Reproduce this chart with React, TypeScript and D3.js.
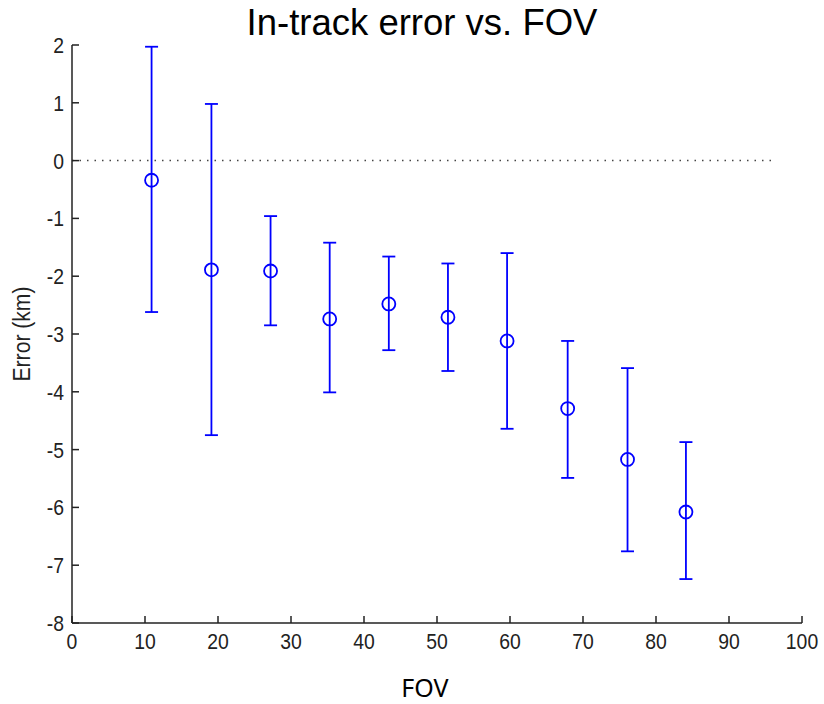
import React from "react";
import * as d3 from "d3";

const fov = [10.9, 19.1, 27.2, 35.3, 43.4, 51.5, 59.6, 67.9, 76.1, 84.1];
const meanErr = [-0.34, -1.89, -1.91, -2.74, -2.48, -2.71, -3.12, -4.29, -5.17, -6.08];
const upperErr = [1.97, 0.98, -0.96, -1.42, -1.66, -1.78, -1.60, -3.12, -3.59, -4.87];
const lowerErr = [-2.62, -4.75, -2.85, -4.01, -3.28, -3.64, -4.64, -5.49, -6.76, -7.24];
const xTicks = [0, 10, 20, 30, 40, 50, 60, 70, 80, 90, 100];
const yTicks = [2, 1, 0, -1, -2, -3, -4, -5, -6, -7, -8];

const W = 824, H = 704;
const left = 72, right = 802, top = 45, bottom = 623;

export default function App() {
  const x = d3.scaleLinear().domain([0, 100]).range([left, right]);
  const y = d3.scaleLinear().domain([-8, 2]).range([bottom, top]);
  const blue = "#0000ff";
  const tickFont = "'Liberation Sans', Arial, sans-serif";
  const sx = 0.88;
  return (
    <svg width={W} height={H} style={{ position: "absolute", left: 0, top: 0, background: "#fff" }}>
      <rect width={W} height={H} fill="#fff" />
      <text x={422} y={35} textAnchor="middle" fontFamily="'Liberation Sans', Arial, sans-serif" fontSize={36.5} fill="#000">
        In-track error vs. FOV
      </text>
      <line x1={x(0)} x2={x(96)} y1={y(0)} y2={y(0)} stroke="#444" strokeWidth={1.5} strokeDasharray="1.5 6" />
      <line x1={left} x2={left} y1={top} y2={bottom} stroke="#222" strokeWidth={1.5} />
      <line x1={left} x2={right} y1={bottom} y2={bottom} stroke="#222" strokeWidth={1.5} />
      {xTicks.map((t) => (
        <g key={"x" + t}>
          <line x1={x(t)} x2={x(t)} y1={bottom} y2={bottom - 7} stroke="#222" strokeWidth={1.5} />
          <text transform={`translate(${x(t)},649) scale(${sx},1)`} textAnchor="middle" fontFamily={tickFont} fontSize={22} fill="#222">{t}</text>
        </g>
      ))}
      {yTicks.map((t) => (
        <g key={"y" + t}>
          <line x1={left} x2={left + 7} y1={y(t)} y2={y(t)} stroke="#222" strokeWidth={1.5} />
          <text transform={`translate(64,${y(t) + 8}) scale(${sx},1)`} textAnchor="end" fontFamily={tickFont} fontSize={22} fill="#222">{t}</text>
        </g>
      ))}
      <text transform={`translate(30,334) rotate(-90) scale(${sx},1)`} textAnchor="middle" fontFamily={tickFont} fontSize={24} fill="#222">
        Error (km)
      </text>
      <text x={425} y={697} textAnchor="middle" fontFamily="'Noto Sans', 'Open Sans', sans-serif" fontSize={25} fill="#000">
        FOV
      </text>
      {fov.map((f, i) => {
        const cx = x(f);
        return (
          <g key={"e" + i} stroke={blue} strokeWidth={1.8} fill="none">
            <line x1={cx} x2={cx} y1={y(upperErr[i])} y2={y(lowerErr[i])} />
            <line x1={cx - 6.5} x2={cx + 6.5} y1={y(upperErr[i])} y2={y(upperErr[i])} />
            <line x1={cx - 6.5} x2={cx + 6.5} y1={y(lowerErr[i])} y2={y(lowerErr[i])} />
            <circle cx={cx} cy={y(meanErr[i])} r={6.5} />
          </g>
        );
      })}
    </svg>
  );
}
